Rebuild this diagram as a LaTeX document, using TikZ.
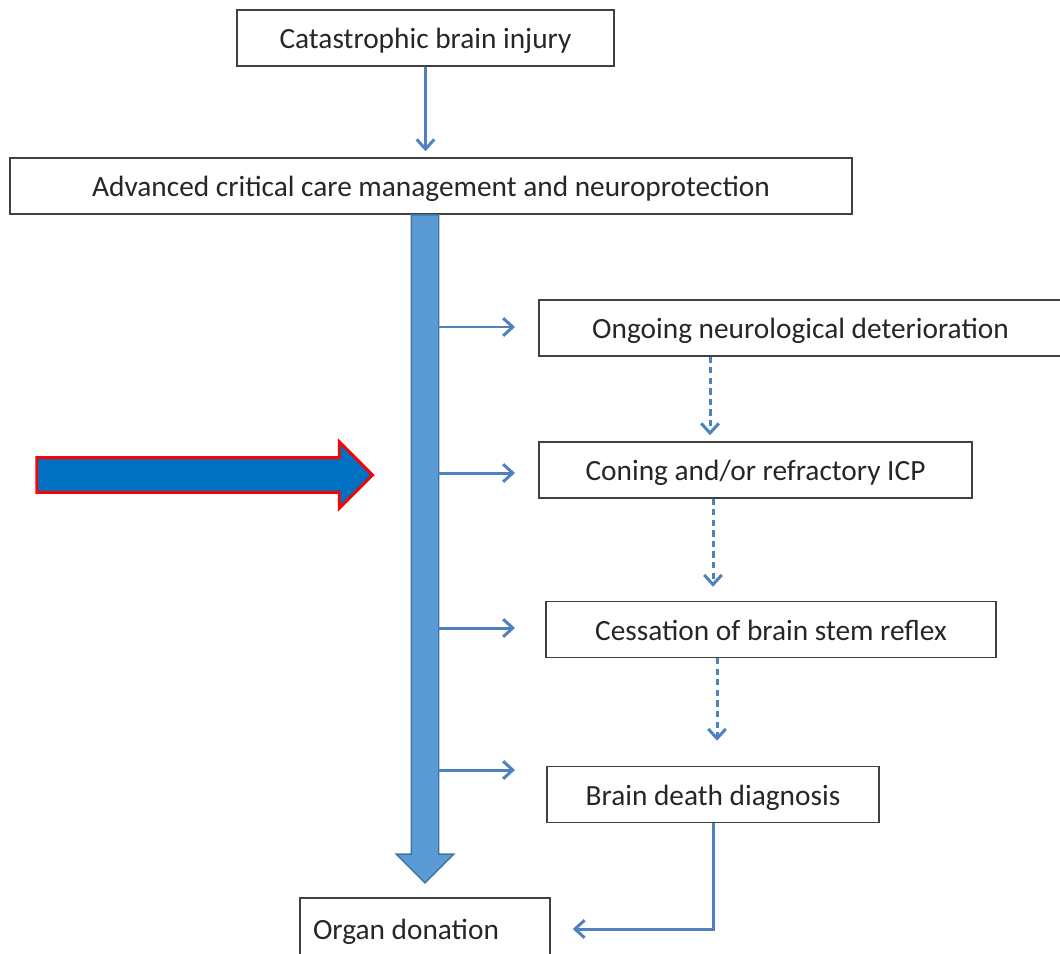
\documentclass[tikz,border=0pt]{standalone}
\usepackage{fontspec}
\setmainfont{Carlito}
\usetikzlibrary{arrows.meta, positioning, shapes.arrows}
\definecolor{boxline}{HTML}{404040}
\definecolor{flowblue}{HTML}{4F81BD}
\definecolor{spineblue}{HTML}{5B9BD5}
\definecolor{spineline}{HTML}{41719C}
\definecolor{focusblue}{HTML}{0070C0}

\begin{document}
\begin{tikzpicture}[x=0.02cm, y=-0.02cm,
        stage/.style={rectangle, draw=boxline, line width=0.85pt, inner sep=0pt, minimum height=1.12cm, text height=0.5cm, text depth=0.07cm, text=black!85, font=\fontsize{16.7}{19}\selectfont},
        flow/.style={draw=flowblue, line width=1.7pt, -{Straight Barb[length=5.5pt, width=10pt]}},
        dashflow/.style={flow, dash pattern=on 3.5pt off 2.5pt},
        bigarrow/.style={single arrow, inner xsep=0pt, inner ysep=0.26cm, single arrow head extend=0.3cm, line width=0.8pt}
        ]
        \useasboundingbox (0,0) rectangle (1060,953);

        % Nodes
        \node (injury) [stage, minimum width=7.54cm] at (425.5,38) {Catastrophic brain injury};
        \node (manage) [stage, minimum width=16.84cm] at (431,186) {Advanced critical care management and neuroprotection};
        \node (ongoing) [stage, minimum width=10.46cm] at (800.5,328) {Ongoing neurological deterioration};
        \node (coning) [stage, minimum width=8.66cm] at (755.5,470) {Coning and/or refractory ICP};
        \node (cessation) [stage, minimum width=9.0cm] at (771,629.5) {Cessation of brain stem reflex};
        \node (diagnosis) [stage, minimum width=6.64cm] at (713,794.5) {Brain death diagnosis};
        \node (organ) [stage, minimum height=1.24cm, text width=4.48cm, inner xsep=0.26cm, align=flush left] at (425,929) {Organ donation};

        \node (spine) [bigarrow, rotate=-90, minimum height=13.36cm, minimum width=1.12cm, fill=spineblue, draw=spineline] at (425,542) {};
        \node (focus) [bigarrow, minimum height=6.72cm, minimum width=1.28cm, inner ysep=0.32cm, single arrow head extend=0.32cm, fill=focusblue, draw=red, line width=1.6pt] at (196,475) {};

        \coordinate (t1) at (515,327);
        \coordinate (t2) at (515,473);
        \coordinate (t3) at (515,628);
        \coordinate (t4) at (515,770);
        \coordinate (d1) at (710,0);
        \coordinate (d2) at (713,0);
        \coordinate (d3) at (717,0);

        % Arrows
        \draw [flow, shorten >=0.12cm] (injury) -- (injury |- manage.north);
        \draw [flow, shorten <=0.26cm] (spine.center |- t1) -- (t1);
        \draw [flow, shorten <=0.26cm] (spine.center |- t2) -- (t2);
        \draw [flow, shorten <=0.26cm] (spine.center |- t3) -- (t3);
        \draw [flow, shorten <=0.26cm] (spine.center |- t4) -- (t4);
        \draw [dashflow, shorten >=0.12cm] (ongoing.south -| d1) -- (coning.north -| d1);
        \draw [dashflow, shorten >=0.28cm] (coning.south -| d2) -- (cessation.north -| d2);
        \draw [dashflow, shorten >=0.5cm] (cessation.south -| d3) -- (diagnosis.north -| d3);
        \draw [flow, shorten >=0.44cm] (diagnosis.south) |- (organ.east);

    \end{tikzpicture}
\end{document}
